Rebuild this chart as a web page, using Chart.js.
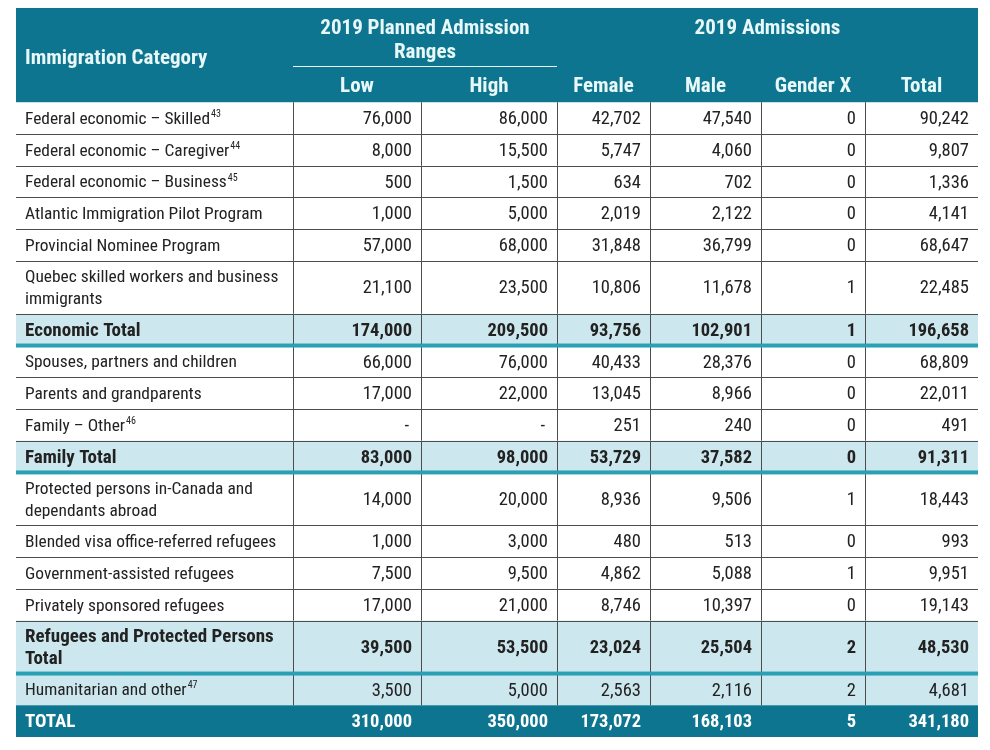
<!DOCTYPE html>
<html>
<head>
<meta charset="utf-8">
<script src="https://cdn.jsdelivr.net/npm/chart.js@4.4.1/dist/chart.umd.min.js"></script>
<style>
body{margin:0;background:#fff}
#wrap{width:990px;height:750px;position:relative}
</style>
</head>
<body>
<div id="wrap"><canvas id="c"></canvas></div>
<script>
// --- data ---
var firstHead = 'Immigration Category';
var groupHeads = ['2019 Planned Admission\nRanges', '2019 Admissions'];
var columnHeads = ['Low', 'High', 'Female', 'Male', 'Gender X', 'Total'];

var categories = [
	'Federal economic \u2013 Skilled',
	'Federal economic \u2013 Caregiver',
	'Federal economic \u2013 Business',
	'Atlantic Immigration Pilot Program',
	'Provincial Nominee Program',
	'Quebec skilled workers and business\nimmigrants',
	'Economic Total',
	'Spouses, partners and children',
	'Parents and grandparents',
	'Family \u2013 Other',
	'Family Total',
	'Protected persons in-Canada and\ndependants abroad',
	'Blended visa office-referred refugees',
	'Government-assisted refugees',
	'Privately sponsored refugees',
	'Refugees and Protected Persons\nTotal',
	'Humanitarian and other',
	'TOTAL'
];
var notes = ['43', '44', '45', '', '', '', '', '', '', '46', '', '', '', '', '', '', '47', ''];
var rowKind = ['item', 'item', 'item', 'item', 'item', 'item', 'subtotal',
	'item', 'item', 'item', 'subtotal',
	'item', 'item', 'item', 'item', 'subtotal', 'other', 'grand'];

var low     = [76000, 8000, 500, 1000, 57000, 21100, 174000, 66000, 17000, null, 83000, 14000, 1000, 7500, 17000, 39500, 3500, 310000];
var high    = [86000, 15500, 1500, 5000, 68000, 23500, 209500, 76000, 22000, null, 98000, 20000, 3000, 9500, 21000, 53500, 5000, 350000];
var female  = [42702, 5747, 634, 2019, 31848, 10806, 93756, 40433, 13045, 251, 53729, 8936, 480, 4862, 8746, 23024, 2563, 173072];
var male    = [47540, 4060, 702, 2122, 36799, 11678, 102901, 28376, 8966, 240, 37582, 9506, 513, 5088, 10397, 25504, 2116, 168103];
var genderX = [0, 0, 0, 0, 0, 1, 1, 0, 0, 0, 0, 1, 0, 1, 0, 2, 2, 5];
var total   = [90242, 9807, 1336, 4141, 68647, 22485, 196658, 68809, 22011, 491, 91311, 18443, 993, 9951, 19143, 48530, 4681, 341180];

var columns = [low, high, female, male, genderX, total];

// --- layout ---
var colWidths = [277, 128, 136, 93, 111, 104, 113];
var head1H = 1.83, head2H = 1.14, lineH = 1, extraLineH = 0.67;
var FONT = '"Liberation Sans Narrow", "Roboto Condensed", Roboto, sans-serif';
var TEAL = '#0d7590', LIGHT = '#cde7ee', RULE = '#2aa0b4', GRID = '#4d4d4d';

var colEdges = [0];
colWidths.forEach(function(w){ colEdges.push(colEdges[colEdges.length - 1] + w); });

var rowTops = [head1H + head2H];
categories.forEach(function(c){
	var n = c.split('\n').length;
	rowTops.push(rowTops[rowTops.length - 1] + lineH + (n - 1) * extraLineH);
});

function fmt(v){
	if (v === null) return '-';
	return v.toLocaleString('en-US');
}

var tablePlugin = {
	id: 'table',
	afterDraw: function(chart){
		var ctx = chart.ctx;
		var sx = chart.scales.x, sy = chart.scales.y;
		function X(v){ return sx.getPixelForValue(v); }
		function Y(v){ return sy.getPixelForValue(v); }
		var x0 = X(0), x1 = X(colEdges[colEdges.length - 1]);

		ctx.save();
		// header
		ctx.fillStyle = TEAL;
		ctx.fillRect(x0, Y(0), x1 - x0, Y(rowTops[0]) - Y(0));
		ctx.strokeStyle = '#e6f6f7';
		ctx.lineWidth = 1;
		ctx.beginPath();
		ctx.moveTo(X(colEdges[1]), Math.round(Y(head1H)) + 0.5);
		ctx.lineTo(X(colEdges[3]), Math.round(Y(head1H)) + 0.5);
		ctx.stroke();

		ctx.fillStyle = '#e8f8f8';
		ctx.font = 'bold 21px ' + FONT;
		ctx.textBaseline = 'middle';
		ctx.textAlign = 'left';
		ctx.fillText(firstHead, x0 + 9, Y(rowTops[0] / 2) + 4);
		ctx.textAlign = 'center';
		var g1 = groupHeads[0].split('\n');
		var gc = (X(colEdges[1]) + X(colEdges[3])) / 2;
		ctx.fillText(g1[0], gc, Y(head1H / 2) - 8);
		ctx.fillText(g1[1], gc, Y(head1H / 2) + 16);
		ctx.fillText(groupHeads[1], (X(colEdges[3]) + x1) / 2, Y(head1H / 2) - 8);
		columnHeads.forEach(function(h, c){
			ctx.fillText(h, (X(colEdges[c + 1]) + X(colEdges[c + 2])) / 2, Y(head1H + head2H / 2) + 3);
		});

		// body rows
		categories.forEach(function(cat, i){
			var top = Y(rowTops[i]), bot = Y(rowTops[i + 1]);
			var kind = rowKind[i];
			if (kind !== 'item') {
				ctx.fillStyle = kind === 'grand' ? TEAL : LIGHT;
				ctx.fillRect(x0, top, x1 - x0, bot - top);
			}
			ctx.strokeStyle = GRID;
			ctx.lineWidth = 1;
			ctx.beginPath();
			if (kind !== 'grand') {
				for (var c = 1; c < colEdges.length - 1; c++) {
					var vx = Math.round(X(colEdges[c])) + 0.5;
					ctx.moveTo(vx, top);
					ctx.lineTo(vx, bot);
				}
				if (i > 0 && rowKind[i - 1] !== 'subtotal') {
					ctx.moveTo(x0, Math.round(top) + 0.5);
					ctx.lineTo(x1, Math.round(top) + 0.5);
				}
			}
			ctx.stroke();

			var bold = kind === 'subtotal' || kind === 'grand';
			var b = bold ? 'bold ' : '';
			var labelFont = b + (bold ? '19px ' : '17.4px ') + FONT;
			ctx.fillStyle = kind === 'grand' ? '#ffffff' : '#222222';
			ctx.font = labelFont;
			ctx.textAlign = 'left';
			var lines = cat.split('\n');
			var mid = (top + bot) / 2 + 1.5;
			var lh = 22;
			lines.forEach(function(t, k){
				var ty = mid + (k - (lines.length - 1) / 2) * lh;
				ctx.fillText(t, x0 + 9, ty);
				if (notes[i] && k === lines.length - 1) {
					var w = ctx.measureText(t).width;
					ctx.font = b + '10px ' + FONT;
					ctx.fillText(notes[i], x0 + 9 + w + 1, ty - 5);
					ctx.font = labelFont;
				}
			});
			ctx.font = b + '18.5px ' + FONT;
			ctx.textAlign = 'right';
			columns.forEach(function(col, c){
				var v = col[i];
				var rx = X(colEdges[c + 2]) - 9;
				if (v === null) rx = X(colEdges[c + 2]) - 12;
				ctx.fillText(fmt(v), rx, mid);
			});
		});

		// thick rules under subtotals
		categories.forEach(function(cat, i){
			if (rowKind[i] === 'subtotal') {
				var by = Y(rowTops[i + 1]);
				ctx.fillStyle = RULE;
				ctx.fillRect(x0, by - 2, x1 - x0, 4);
			}
		});
		ctx.restore();
	}
};

new Chart(document.getElementById('c'), {
	type: 'scatter',
	data: { datasets: [{ data: [] }] },
	options: {
		responsive: true,
		maintainAspectRatio: false,
		animation: false,
		layout: { padding: { left: 16, right: 12, top: 8, bottom: 13 } },
		plugins: { legend: { display: false }, tooltip: { enabled: false } },
		scales: {
			x: { type: 'linear', display: false, min: 0, max: colEdges[colEdges.length - 1] },
			y: { type: 'linear', display: false, reverse: true, min: 0, max: rowTops[rowTops.length - 1] }
		}
	},
	plugins: [tablePlugin]
});
</script>
</body>
</html>
